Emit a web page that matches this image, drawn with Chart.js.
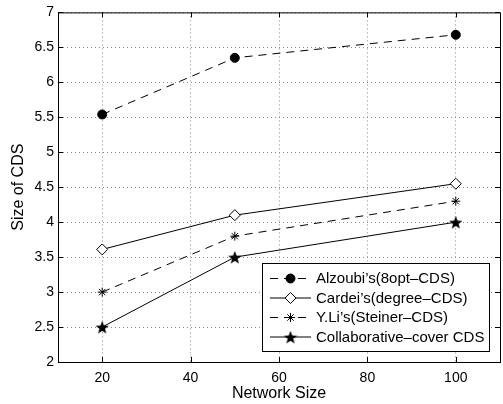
<!DOCTYPE html>
<html>
<head>
<meta charset="utf-8">
<title>Size of CDS vs Network Size</title>
<script src="https://cdn.jsdelivr.net/npm/chart.js@4.4.0/dist/chart.umd.min.js"></script>
<style>
  html, body { margin: 0; padding: 0; overflow: hidden; background: #fff; }
  #wrap { width: 508px; height: 404px; }
</style>
</head>
<body>
<div id="wrap"><canvas id="cds-canvas" width="508" height="404"></canvas></div>
<script>
// data
var networkSize = [20, 50, 100];
var alzoubi = [5.54, 6.35, 6.68];
var cardei = [3.61, 4.10, 4.55];
var yli = [3.0, 3.8, 4.3];
var collab = [2.5, 3.5, 4.0];
var xTicks = [20, 40, 60, 80, 100];
var yTicks = [2, 2.5, 3, 3.5, 4, 4.5, 5, 5.5, 6, 6.5, 7];
var seriesNames = ["Alzoubi’s(8opt–CDS)", "Cardei’s(degree–CDS)", "Y.Li’s(Steiner–CDS)", "Collaborative–cover CDS"];

var FONT = "'Liberation Sans', Arial, Helvetica, sans-serif";

// filled five point star marker
function makeStar(size) {
  var c = document.createElement('canvas');
  c.width = size; c.height = size;
  var g = c.getContext('2d');
  var cx = size / 2, cy = size / 2, R = size / 2, r = R * 0.42;
  g.beginPath();
  for (var i = 0; i < 10; i++) {
    var rad = (i % 2 == 0) ? R : r;
    var a = -Math.PI / 2 + i * Math.PI / 5;
    var px = cx + rad * Math.cos(a), py = cy + rad * Math.sin(a) + 0.8;
    if (i == 0) g.moveTo(px, py); else g.lineTo(px, py);
  }
  g.closePath();
  g.fillStyle = '#000';
  g.fill();
  return c;
}
var starImg = makeStar(14);

function pts(ys) {
  return networkSize.map(function (x, i) { return { x: x, y: ys[i] }; });
}

var datasets = [{
  label: seriesNames[0], data: pts(alzoubi),
  borderColor: '#000', borderWidth: 1, borderDash: [8, 6],
  pointStyle: 'circle', pointRadius: 4.5, backgroundColor: '#000', pointBorderColor: '#000'
}, {
  label: seriesNames[1], data: pts(cardei),
  borderColor: '#000', borderWidth: 1,
  pointStyle: 'rectRot', pointRadius: 5.5, backgroundColor: '#fff', pointBorderColor: '#000', pointBorderWidth: 1
}, {
  label: seriesNames[2], data: pts(yli),
  borderColor: '#000', borderWidth: 1, borderDash: [8, 6],
  pointStyle: 'star', pointRadius: 4.5, backgroundColor: '#000', pointBorderColor: '#000', pointBorderWidth: 1
}, {
  label: seriesNames[3], data: pts(collab),
  borderColor: '#000', borderWidth: 1,
  pointStyle: starImg, pointRadius: 7, backgroundColor: '#000', pointBorderColor: '#000'
}];

// frame, inward ticks and the boxed legend, matlab style
var matlabFrame = {
  id: 'matlabFrame',
  afterDraw: function (chart) {
    var ctx = chart.ctx, a = chart.chartArea;
    var xs = chart.scales.x, ys = chart.scales.y;
    ctx.save();
    ctx.strokeStyle = '#000';
    ctx.lineWidth = 1;
    ctx.setLineDash([]);
    ctx.strokeRect(a.left + 0.5, a.top + 0.5, a.right - a.left, a.bottom - a.top);
    ctx.beginPath();
    xTicks.forEach(function (v) {
      var x = Math.round(xs.getPixelForValue(v)) + 0.5;
      ctx.moveTo(x, a.bottom); ctx.lineTo(x, a.bottom - 5);
      ctx.moveTo(x, a.top); ctx.lineTo(x, a.top + 5);
    });
    yTicks.forEach(function (v) {
      var y = Math.round(ys.getPixelForValue(v)) + 0.5;
      ctx.moveTo(a.left, y); ctx.lineTo(a.left + 5, y);
      ctx.moveTo(a.right, y); ctx.lineTo(a.right - 5, y);
    });
    ctx.stroke();

    // legend box
    var bx = 262.5, by = 263.5, bw = 227, bh = 88;
    ctx.fillStyle = '#fff';
    ctx.fillRect(bx, by, bw, bh);
    ctx.strokeRect(bx, by, bw, bh);
    ctx.font = '15px ' + FONT;
    ctx.textBaseline = 'middle';
    chart.data.datasets.forEach(function (ds, i) {
      var y = 278 + i * 19.5;
      ctx.strokeStyle = '#000';
      ctx.lineWidth = 1;
      ctx.setLineDash(ds.borderDash || []);
      ctx.beginPath();
      ctx.moveTo(270, y + 0.5); ctx.lineTo(311, y + 0.5);
      ctx.stroke();
      ctx.setLineDash([]);
      ctx.fillStyle = ds.backgroundColor;
      ctx.strokeStyle = ds.pointBorderColor;
      ctx.lineWidth = ds.pointBorderWidth || 1;
      Chart.helpers.drawPoint(ctx, { pointStyle: ds.pointStyle, radius: ds.pointRadius, rotation: 0, borderWidth: ds.pointBorderWidth || 1 }, 290.5, y + 0.5);
      ctx.fillStyle = '#000';
      ctx.fillText(ds.label, 316, y + 1);
    });
    ctx.restore();
  }
};

var ctx = document.getElementById('cds-canvas').getContext('2d');
var cdsChart = new Chart(ctx, {
  type: 'line',
  data: { datasets: datasets },
  plugins: [matlabFrame],
  options: {
    responsive: false,
    animation: false,
    layout: { padding: { left: 0, top: 10, right: 2, bottom: 0 } },
    plugins: {
      legend: { display: false },
      tooltip: { enabled: false }
    },
    scales: {
      x: {
        type: 'linear', min: 10, max: 110,
        afterBuildTicks: function (scale) { scale.ticks = xTicks.map(function (v) { return { value: v }; }); },
        afterFit: function (scale) { scale.height = 42; },
        ticks: { color: '#000', font: { family: FONT, size: 14 }, padding: 8, maxRotation: 0 },
        grid: { color: '#8c8c8c', lineWidth: 1, drawTicks: false },
        border: { display: true, color: '#000', width: 1, dash: [1, 3] },
        title: { display: true, text: 'Network Size', color: '#000', font: { family: FONT, size: 16 }, padding: { top: 0, bottom: 1 } }
      },
      y: {
        type: 'linear', min: 2, max: 7,
        afterBuildTicks: function (scale) { scale.ticks = yTicks.map(function (v) { return { value: v }; }); },
        afterFit: function (scale) { scale.width = 58; },
        ticks: { color: '#000', font: { family: FONT, size: 14 }, padding: 4, callback: function (v) { return String(v); } },
        grid: { color: '#8c8c8c', lineWidth: 1, drawTicks: false },
        border: { display: true, color: '#000', width: 1, dash: [1, 3] },
        title: { display: true, text: 'Size of CDS', color: '#000', font: { family: FONT, size: 16 }, padding: { top: 9, bottom: 0 } }
      }
    }
  }
});
</script>
</body>
</html>
